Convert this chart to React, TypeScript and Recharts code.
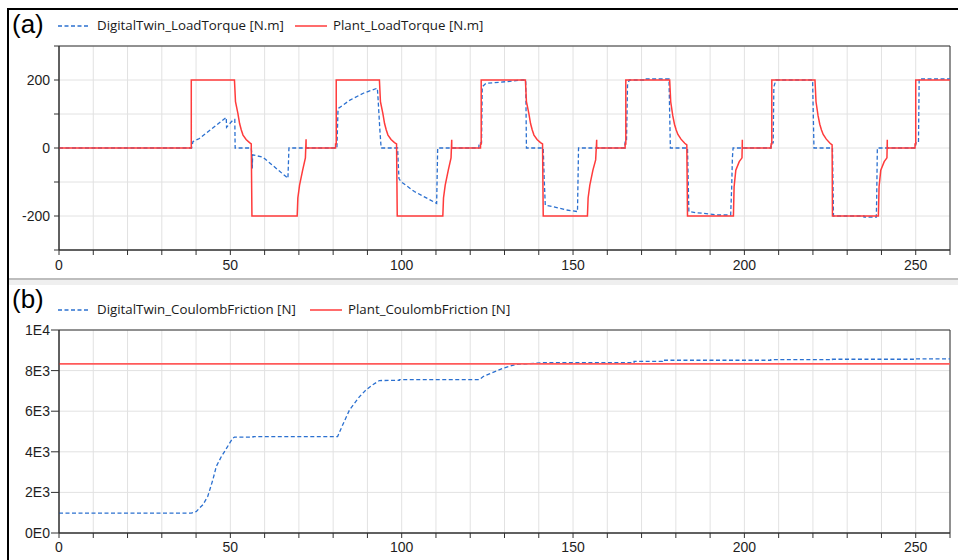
import React from "react";
import { LineChart, Line, XAxis, YAxis, CartesianGrid, ReferenceArea } from "recharts";

// ---------- data ----------
const xTicks = [0, 10, 20, 30, 40, 50, 60, 70, 80, 90, 100, 110, 120, 130, 140, 150, 160, 170, 180, 190, 200, 210, 220, 230, 240, 250, 260];
const torqueTicks = [-300, -200, -100, 0, 100, 200, 300];
const torqueLabels = [-200, 0, 200];
const frictionTicks = [0, 2000, 4000, 6000, 8000, 10000];
const frictionLabels = ["0E0", "2E3", "4E3", "6E3", "8E3", "1E4"];

const twinLoadTorque: [number, number][] = [
  [0, 0], [38.7, 0], [39.1, 19], [41.0, 28], [48.8, 90], [48.9, 61], [50.3, 77], [51.0, 84], [51.3, 84], [51.4, 0],
  [56.1, 0], [56.3, -20], [56.4, -60], [56.5, -20], [59.5, -27], [66.8, -89], [67.1, 0],
  [81.1, 0], [81.4, 107], [81.6, 117], [84.9, 141], [88.8, 161], [92.9, 176], [93.1, 146], [93.6, 58], [94.0, 0],
  [98.8, 0], [99.2, -90], [99.8, -99], [103.7, -128], [110.2, -163], [110.5, 0],
  [122.5, 0], [122.6, 15], [123.3, 15], [123.5, 180], [124.6, 190], [130.4, 195], [135.3, 200], [136.2, 200], [136.4, 0],
  [141.3, 0], [141.6, -94], [141.9, -168], [144.0, -172], [147.9, -182], [151.3, -187], [151.6, 0],
  [165.1, 0], [165.2, 20], [165.6, 20], [165.9, 185], [166.4, 200], [170.8, 200], [170.8, 203], [178.0, 203], [178.4, 0],
  [183.4, 0], [183.8, -187], [185.8, -190], [189.7, -194], [192.6, -197], [196.0, -197], [196.3, -114], [196.5, -29], [196.7, 0],
  [207.7, 0], [207.8, 15], [208.4, 15], [208.6, 180], [209.2, 200], [219.9, 200], [220.3, 0],
  [225.7, 0], [226.0, -200], [234.9, -200], [234.9, -203], [238.5, -203], [238.6, -153], [238.8, 0],
  [249.9, 0], [250.0, 15], [250.8, 15], [251.0, 203], [260, 203],
];

const plantLoadTorque: [number, number][] = [
  [0, 0], [38.6, 0], [38.6, 200], [51.2, 200], [51.5, 136], [52.2, 102], [52.7, 72], [53.2, 53], [53.7, 38], [54.6, 25], [55.6, 16], [56.1, 12],
  [56.3, -200], [69.5, -200], [69.7, -147], [70.2, -109], [71.1, -65], [71.9, -29], [72.1, 26], [72.1, 0],
  [80.7, 0], [80.7, 12], [80.9, 12], [80.9, 200], [93.5, 200], [93.8, 136], [94.5, 102], [95.0, 72], [95.5, 53], [96.0, 38], [96.9, 25], [97.9, 16], [98.5, 12],
  [98.7, -200], [112.0, -200], [112.2, -147], [112.7, -109], [113.6, -65], [114.4, -29], [114.6, 24], [114.6, 0],
  [123.0, 0], [123.0, 12], [123.2, 12], [123.2, 200], [136.1, 200], [136.4, 136], [137.1, 102], [137.6, 72], [138.1, 53], [138.6, 38], [139.5, 25], [140.5, 16], [141.1, 12],
  [141.3, -200], [154.2, -200], [154.4, -147], [154.9, -109], [155.8, -65], [156.6, -35], [156.9, 24], [156.9, 0],
  [165.2, 0], [165.2, 12], [165.4, 12], [165.4, 200], [178.2, 200], [178.5, 136], [179.1, 95], [179.6, 70], [180.1, 53], [180.6, 40], [181.5, 26], [182.6, 14], [183.2, 9],
  [183.4, -200], [196.8, -200], [197.0, -114], [197.5, -65], [198.5, -40], [199.3, -29], [199.4, 24], [199.4, 0],
  [207.8, 0], [207.8, 12], [208.0, 12], [208.0, 200], [220.6, 200], [220.9, 136], [221.5, 95], [222.0, 70], [222.5, 53], [223.0, 40], [223.9, 26], [225.0, 14], [225.6, 9],
  [225.7, -200], [239.1, -200], [239.3, -114], [239.8, -65], [240.8, -40], [241.6, -29], [241.7, 24], [241.7, 0],
  [249.8, 0], [249.8, 12], [250.0, 12], [250.0, 200], [260, 200],
];

const twinCoulombFriction: [number, number][] = [
  [0, 980], [38.6, 980], [40.1, 1060], [41.0, 1230], [42.0, 1390], [43.4, 1800], [44.9, 2620], [45.9, 3280], [47.4, 3770], [48.3, 4010], [49.8, 4430], [50.7, 4670], [51.2, 4720],
  [56.6, 4720], [56.6, 4750], [81.3, 4750], [82.8, 5330], [84.8, 6070], [87.7, 6720], [89.6, 7050], [91.5, 7300], [93.5, 7510], [99.3, 7520], [99.3, 7560],
  [122.7, 7560], [123.7, 7700], [129.5, 8110], [133.4, 8310], [135.3, 8320], [141.1, 8390], [167.8, 8390], [167.8, 8450],
  [176.1, 8450], [176.1, 8510], [207.7, 8510], [207.7, 8540], [225.7, 8540], [225.7, 8560], [250.0, 8560], [250.0, 8580], [260, 8580],
];

const plantCoulombFriction: [number, number][] = [
  [0, 8330], [260, 8330],
];

// ---------- styles ----------
const FONT = "'Liberation Sans', Arial, sans-serif";
const LEGEND_FONT = "'Open Sans', 'Noto Sans', sans-serif";
const BLUE = "#2b70d0";
const RED = "#ff3b3b";
const AXIS = "#303030";
const GRID = "#e2e2e2";

const toRows = (pts: [number, number][]) => pts.map(([t, v]) => ({ t, v }));

const xFmt = (v: number) => (v % 50 === 0 ? String(v) : "");
const torqueFmt = (v: number) => (torqueLabels.includes(v) ? String(v) : "");
const frictionFmt = (v: number) => {
  const i = frictionTicks.indexOf(v);
  return i >= 0 ? frictionLabels[i] : "";
};

function LegendRow({ top, blueText, redText, redX }: { top: number; blueText: string; redText: string; redX: number }) {
  const txt: React.CSSProperties = { position: "absolute", top: top - 10, fontFamily: LEGEND_FONT, fontSize: 13.3, color: "#1a1a1a", lineHeight: "19px", whiteSpace: "nowrap" };
  return (
    <>
      <svg style={{ position: "absolute", left: 58, top: top - 2 }} width={32} height={4}>
        <line x1={0} y1={2} x2={32} y2={2} stroke={BLUE} strokeWidth={1.3} strokeDasharray="4 2.5" />
      </svg>
      <div style={{ ...txt, left: 97 }}>{blueText}</div>
      <svg style={{ position: "absolute", left: redX, top: top - 2 }} width={32} height={4}>
        <line x1={0} y1={2} x2={32} y2={2} stroke={RED} strokeWidth={1.5} />
      </svg>
      <div style={{ ...txt, left: redX + 38 }}>{redText}</div>
    </>
  );
}

export default function App() {
  const tickStyle = { fill: "#1e1e1e", fontSize: 14, fontFamily: FONT };
  return (
    <div style={{ position: "absolute", left: 0, top: 0, width: 958, height: 560, background: "#fff", overflow: "hidden" }}>
      {/* panel (a) */}
      <div style={{ position: "absolute", left: 0, top: 0 }}>
        <LineChart width={958} height={280} margin={{ top: 46, right: 8, bottom: 0, left: 0 }}>
          <CartesianGrid stroke={GRID} vertical horizontal />
          <XAxis
            dataKey="t"
            type="number"
            domain={[0, 260]}
            ticks={xTicks}
            tickFormatter={xFmt}
            interval={0}
            height={30}
            tick={tickStyle}
            tickSize={5}
            tickMargin={5}
            stroke={AXIS}
            allowDataOverflow
          />
          <YAxis
            type="number"
            domain={[-300, 300]}
            ticks={torqueTicks}
            tickFormatter={torqueFmt}
            interval={0}
            width={59}
            tick={tickStyle}
            tickSize={5}
            tickMargin={4}
            stroke={AXIS}
            allowDataOverflow
          />
          <ReferenceArea x1={0} x2={260} y1={-300} y2={300} fill="none" stroke={AXIS} strokeWidth={1} />
          <Line data={toRows(twinLoadTorque)} dataKey="v" type="linear" stroke={BLUE} strokeWidth={1.3} strokeDasharray="4 2.5" dot={false} isAnimationActive={false} />
          <Line data={toRows(plantLoadTorque)} dataKey="v" type="linear" stroke={RED} strokeWidth={1.5} dot={false} isAnimationActive={false} />
        </LineChart>
      </div>

      {/* panel (b) */}
      <div style={{ position: "absolute", left: 0, top: 280 }}>
        <LineChart width={958} height={280} margin={{ top: 50, right: 8, bottom: 0, left: 0 }}>
          <CartesianGrid stroke={GRID} vertical horizontal />
          <XAxis
            dataKey="t"
            type="number"
            domain={[0, 260]}
            ticks={xTicks}
            tickFormatter={xFmt}
            interval={0}
            height={27}
            tick={tickStyle}
            tickSize={5}
            tickMargin={4}
            stroke={AXIS}
            allowDataOverflow
          />
          <YAxis
            type="number"
            domain={[0, 10000]}
            ticks={frictionTicks}
            tickFormatter={frictionFmt}
            interval={0}
            width={59}
            tick={tickStyle}
            tickSize={8}
            tickMargin={1}
            stroke={AXIS}
            allowDataOverflow
          />
          <ReferenceArea x1={0} x2={260} y1={0} y2={10000} fill="none" stroke={AXIS} strokeWidth={1} />
          <Line data={toRows(twinCoulombFriction)} dataKey="v" type="linear" stroke={BLUE} strokeWidth={1.3} strokeDasharray="4 2.5" dot={false} isAnimationActive={false} />
          <Line data={toRows(plantCoulombFriction)} dataKey="v" type="linear" stroke="#ff5a5a" strokeWidth={1.8} dot={false} isAnimationActive={false} />
        </LineChart>
      </div>

      {/* frame & separator */}
      <div style={{ position: "absolute", left: 7, top: 8, width: 951, height: 552, borderLeft: "2px solid #000", borderTop: "2px solid #000", boxSizing: "border-box" }} />
      <div style={{ position: "absolute", left: 9, top: 278, width: 949, height: 7, background: "#efefef", borderTop: "2px solid #bdbdbd", boxSizing: "border-box" }} />

      {/* panel labels */}
      <div style={{ position: "absolute", left: 12, top: 9, fontFamily: FONT, fontSize: 26, lineHeight: "31px", color: "#000" }}>(a)</div>
      <div style={{ position: "absolute", left: 12, top: 284, fontFamily: FONT, fontSize: 26, lineHeight: "31px", color: "#000" }}>(b)</div>

      {/* legends */}
      <LegendRow top={26} blueText="DigitalTwin_LoadTorque [N.m]" redText="Plant_LoadTorque [N.m]" redX={295} />
      <LegendRow top={310} blueText="DigitalTwin_CoulombFriction [N]" redText="Plant_CoulombFriction [N]" redX={310} />
    </div>
  );
}
